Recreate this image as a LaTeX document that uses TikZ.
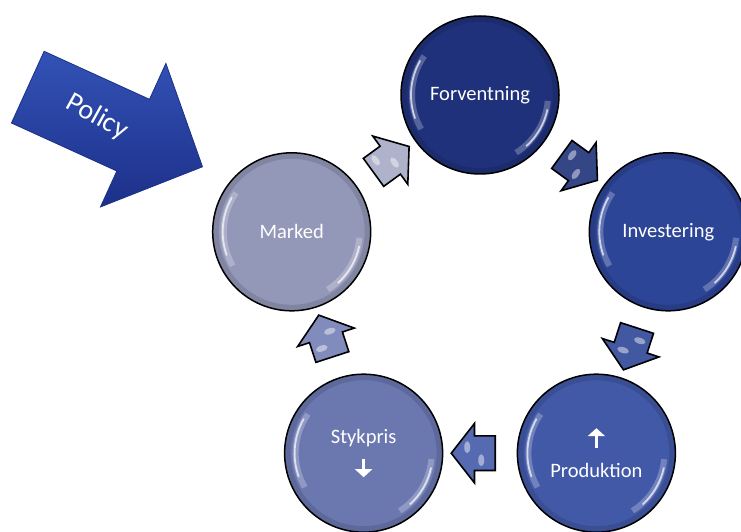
\documentclass[tikz,border=0pt]{standalone}
\usepackage{fontspec}
\setmainfont{Carlito}
\usetikzlibrary{shapes.arrows,calc,arrows.meta}
\definecolor{forvblue}{HTML}{1F317A}
\definecolor{invblue}{HTML}{2D4597}
\definecolor{prodblue}{HTML}{4259A8}
\definecolor{stykblue}{HTML}{6B78B0}
\definecolor{markgrey}{HTML}{9398B8}
\definecolor{policytop}{HTML}{3352B6}
\definecolor{policybot}{HTML}{1C3089}

\begin{document}
\begin{tikzpicture}[x=1pt,y=1pt,
  bubble/.style={circle,draw=black,line width=1.5,minimum size=158,inner sep=0,
    fill=#1,text=white,font=\fontsize{20.5}{24}\selectfont,
    path picture={
      \draw[black,opacity=.12,line width=10] (path picture bounding box.center) circle (78);
      \draw[white,opacity=.25,line width=6] ([shift={(145:68)}]path picture bounding box.center) arc (145:210:68);
      \draw[white,opacity=.7,line width=1.8] ([shift={(150:69)}]path picture bounding box.center) arc (150:200:69);
      \draw[white,opacity=.25,line width=6] ([shift={(-58:68)}]path picture bounding box.center) arc (-58:-5:68);
      \draw[white,opacity=.7,line width=1.8] ([shift={(-48:69)}]path picture bounding box.center) arc (-48:-12:69);
    }},
  gap/.style={single arrow,draw=black,line width=1.6,fill=#1,inner xsep=0,inner ysep=16.5,
    single arrow head extend=12.5,single arrow tip angle=104,minimum height=44,minimum width=0,
    path picture={
      \fill[white,opacity=.45] ([shift={(6,-6)}]path picture bounding box.center) ellipse (3 and 6);
      \fill[white,opacity=.45] ([shift={(-8,7)}]path picture bounding box.center) ellipse (3 and 6);
    }},
  lbl/.style={text=white,font=\fontsize{20.5}{24}\selectfont},
  updown/.style={white,line width=3.5,-{Triangle[length=8,width=17]}}]
\useasboundingbox (0,0) rectangle (741,531);
\coordinate (c) at (480,238);

\node[bubble=forvblue] (forv) at ([shift={(90:198)}]c) {Forventning};
\node[bubble=invblue] (inv) at ([shift={(18:198)}]c) {Investering};
\node[bubble=prodblue] (prod) at ([shift={(-54:198)}]c) {};
\node[bubble=stykblue] (styk) at ([shift={(-126:198)}]c) {};
\node[bubble=markgrey] (mark) at ([shift={(162:198)}]c) {Marked};

\node[lbl] (prodtxt) at ([yshift=-17]prod.center) {Produktion};
\draw[updown] ([yshift=5]prod.center) -- ([yshift=25]prod.center);
\node[lbl] (styktxt) at ([yshift=15]styk.center) {Stykpris};
\draw[updown] ([yshift=-6]styk.center) -- ([yshift=-24]styk.center);

\node[gap=markgrey!75!white,rotate=36] (g1) at ($(mark)!.5!(forv)$) {};
\node[gap=forvblue!90!white,rotate=-36] (g2) at ($(forv)!.5!(inv)$) {};
\node[gap=invblue!90!white,rotate=-108] (g3) at ($(inv)!.5!(prod)$) {};
\node[gap=prodblue!90!white,rotate=180] (g4) at ($(prod)!.5!(styk)$) {};
\node[gap=stykblue!85!white,rotate=108] (g5) at ($(styk)!.5!(mark)$) {};

\coordinate (ptip) at (203,364);
\node[single arrow,inner xsep=0,inner ysep=39,single arrow head extend=39.5,
  single arrow tip angle=92,minimum height=192,minimum width=0,
  top color=policytop,bottom color=policybot,draw=policybot,line width=.8,
  rotate=-24.5,anchor=tip] (policy) at (ptip) {};
\node[text=white,font=\fontsize{28}{30}\selectfont,rotate=-29] (policytxt) at (97,414) {Policy};
\end{tikzpicture}
\end{document}
